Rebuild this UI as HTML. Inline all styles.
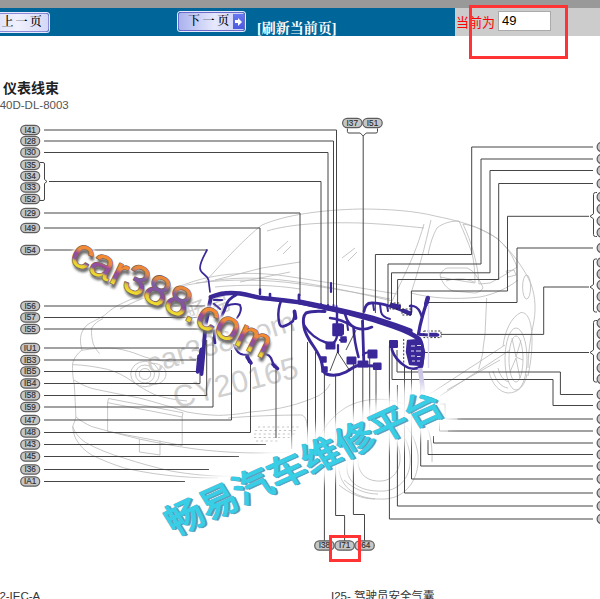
<!DOCTYPE html>
<html><head><meta charset="utf-8"><title>仪表线束</title>
<style>
html,body{margin:0;padding:0;background:#fff;overflow:hidden}
body{width:600px;height:599px;position:relative;font-family:"Liberation Sans","Noto Sans CJK SC",sans-serif}
#topgray{position:absolute;left:0;top:0;width:600px;height:8px;background:#999}
#bar{position:absolute;left:0;top:8px;width:455px;height:28px;background:#006699}
#barr{position:absolute;left:455px;top:8px;width:145px;height:28px;background:#ccc}
.btn{position:absolute;box-sizing:border-box;border:1px solid #6c6cc8;border-radius:2.5px;box-shadow:0 0 0 1px #e8e8ff;background:linear-gradient(90deg,#aab2ee,#e6e8fc 55%,#c8ccf4);color:#000;font:500 12px "Liberation Serif","Noto Serif CJK SC",serif;white-space:nowrap;letter-spacing:2.6px}
#prev{left:-4px;top:13px;width:52.5px;height:19px;line-height:16px;padding-left:4.5px;letter-spacing:2.1px;border-color:#8a8ad6;background:linear-gradient(90deg,#dfe2fa,#f0f1fd 40%,#d4d8f6)}
#next{left:178px;top:12px;width:67px;height:19px;line-height:16px;padding-left:9px}
#next i{position:absolute;right:0;top:1px;width:11px;height:15px;background:linear-gradient(#6878f0,#4a5ae0)}
#next i:before{content:"";position:absolute;left:2px;top:6px;width:4px;height:3px;background:#fff}
#next i:after{content:"";position:absolute;left:5px;top:3.5px;border-left:4.5px solid #fff;border-top:4px solid transparent;border-bottom:4px solid transparent}
#refresh{position:absolute;left:257px;top:16.5px;color:#fff;font:bold 14px "Liberation Serif","Noto Serif CJK SC",serif;white-space:nowrap}
#cur{position:absolute;left:456px;top:12px;color:#f00;font:13px "Liberation Sans","Noto Sans CJK SC",sans-serif;white-space:nowrap}
#inp{position:absolute;left:498px;top:11px;width:53px;height:20px;box-sizing:border-box;border:1px solid #aaa;background:#fff;font:13px "Liberation Sans",sans-serif;line-height:18px;padding-left:3px;color:#000}
#redbox{position:absolute;left:468.5px;top:4.5px;width:99px;height:54px;box-sizing:border-box;border:3px solid #f33}
svg{position:absolute;left:0;top:0}
</style></head><body>
<div id="topgray"></div><div id="bar"></div><div id="barr"></div>
<div class="btn" id="prev">上一页</div>
<div class="btn" id="next">下一页<i></i></div>
<div id="refresh">[刷新当前页]</div>
<div id="cur">当前为</div>
<div id="inp">49</div>
<div id="redbox"></div>
<svg width="600" height="599" viewBox="0 0 600 599">
<text x="3" y="93" font-size="14" font-weight="bold" fill="#222" font-family="Liberation Sans, Noto Sans CJK SC, sans-serif">仪表线束</text>
<text x="-8" y="109" font-size="11.5" fill="#555" font-family="Liberation Sans, sans-serif">B40D-DL-8003</text>
<path d="M205,282 C225,260 245,238 262,225 C285,215 320,210 360,209 C390,209 415,211 435,216 C455,220 480,226 498,239 C512,252 524,268 531,284 C536,298 536,312 533,326 C530,340 528,355 528,368" stroke="#b9b9b9" stroke-width="0.8" fill="none" />
<path d="M267,231 C290,224 325,222 360,223 C385,224 405,226 424,228" stroke="#b9b9b9" stroke-width="0.8" fill="none" />
<path d="M424,224 C421,234 418,244 413,256 C408,268 402,280 397,291 L392,301" stroke="#b9b9b9" stroke-width="0.8" fill="none" />
<path d="M431,220 C428,232 425,246 421,260 C417,274 414,284 411,293" stroke="#b9b9b9" stroke-width="0.8" fill="none" />
<path d="M205,282 C230,277 260,277 290,281 C320,285 355,292 392,301" stroke="#b9b9b9" stroke-width="0.8" fill="none" />
<path d="M186,284 C215,273 250,271 285,276 C320,281 360,288 397,294" stroke="#b9b9b9" stroke-width="0.8" fill="none" />
<path d="M428,255 C430,244 433,235 437,228 C443,223 451,221 459,221 C463,230 468,242 472,253 C474,262 475,272 475,283 C462,281 450,279 440,277" stroke="#b9b9b9" stroke-width="0.8" fill="none" />
<path d="M463,224 C470,225 476,227 480,229 C488,233 494,236 499,240 C505,246 509,251 512,256 C514,260 516,264 517,267 C510,272 500,278 490,283 L479,284 C478,265 472,243 463,224" stroke="#b9b9b9" stroke-width="0.8" fill="none" />
<path d="M440,275 C442,271 445,268 448,268 L467,268 C472,270 475,273 477,277 C480,281 482,285 483,288 C481,291 478,293 475,293 L453,291 C447,289 442,283 440,275" stroke="#b9b9b9" stroke-width="0.8" fill="none" />
<path d="M446,281 C455,278 466,278 474,282" stroke="#b9b9b9" stroke-width="0.8" fill="none" />
<path d="M411,293 C430,298 455,300 480,297 C495,294 508,288 518,280" stroke="#b9b9b9" stroke-width="0.8" fill="none" />
<path d="M205,282 C190,284 172,288 158,291.6" stroke="#b9b9b9" stroke-width="0.8" fill="none" />
<path d="M186,284 C165,290 140,298 120,309" stroke="#b9b9b9" stroke-width="0.8" fill="none" />
<path d="M158,291.6 C145,294 133,298 123.5,302.7 C116,306 110,310 104.4,315.4 C97,320 91,322 87,325 C83,329 81,333 80.6,337.6 C80,342 81,346 82,350 C77,354 74,358 72.7,363 C72,370 73,378 74.3,385 C75,396 75.5,407 75.9,417 C75,421 73.5,424 72.7,426.5 C73,431 74,435 75.9,439 C80,446 85,451 91.7,455 C102,460 112,464 123.5,467.8 C150,474 180,478 218,478" stroke="#b9b9b9" stroke-width="0.8" fill="none" />
<path d="M103,318.6 C98,321 94,324 91.7,328 C91,334 92,339 93.3,344 C95,348 97,351 99.7,353.5" stroke="#b9b9b9" stroke-width="0.8" fill="none" />
<path d="M82,350.3 C94,348 106,347.5 117,348.7 C125,350 132,352 139.4,355 C152,360 165,362 180,362" stroke="#b9b9b9" stroke-width="0.8" fill="none" />
<path d="M72.7,364.6 C85,365 97,367 107.6,369.4 C117,372 125,376 133,382 C140,387 147,391 155,394.8 C165,398 176,400 187,401" stroke="#b9b9b9" stroke-width="0.8" fill="none" />
<path d="M130.7,374 a14.3,12.7 0 1,0 28.6,0 a14.3,12.7 0 1,0 -28.6,0" stroke="#b9b9b9" stroke-width="0.8" fill="none" />
<path d="M135.5,374 a9.5,9 0 1,0 19,0 a9.5,9 0 1,0 -19,0" stroke="#b9b9b9" stroke-width="0.8" fill="none" />
<path d="M139.3,374 a5.7,5.5 0 1,0 11.4,0 a5.7,5.5 0 1,0 -11.4,0" stroke="#b9b9b9" stroke-width="0.8" fill="none" />
<path d="M149,363.5 C158,362 166,367 166,374 C166,381 158,386 149,384.5" stroke="#b9b9b9" stroke-width="0.8" fill="none" />
<path d="M74,380 C80,384 86,386.5 91.7,388.4 C108,392 124,395 139.4,398 C155,402 171,407 187,412 C198,414 208,415 218.7,415.4 C232,415 243,413.5 250,412" stroke="#b9b9b9" stroke-width="0.8" fill="none" />
<path d="M75.9,417 C81,421 86,424 91.7,426.5 C107,431 123,435 139.4,439 C157,443 175,446 193,448.7 C225,453 260,454 290,452" stroke="#b9b9b9" stroke-width="0.8" fill="none" />
<path d="M72.7,426.5 C75,433 79,438 85.4,442.4 C97,449 110,454 123.5,458 C139,463 155,467.5 171,471 C190,474.5 215,477 240,476 C265,475 290,470 310,462" stroke="#b9b9b9" stroke-width="0.8" fill="none" />
<path d="M107.6,402.7 L182.2,417 L182.2,445.5 L107.6,431.3 Z" stroke="#b9b9b9" stroke-width="0.8" fill="none" />
<path d="M107.6,402.7 L108.5,398.5 L183,412.8 L182.2,417" stroke="#b9b9b9" stroke-width="0.8" fill="none" />
<path d="M139.4,439 L139.4,452 L160,455 L160,440.8" stroke="#b9b9b9" stroke-width="0.8" fill="none" />
<path d="M228,418 C250,416 280,415 302,415 C306,417 307,422 307,427" stroke="#b9b9b9" stroke-width="0.8" fill="none" />
<path d="M250,412 C280,410 300,404 318,396 C325,392 328,388 330,384" stroke="#b9b9b9" stroke-width="0.8" fill="none" />
<path d="M310,462 C316,440 326,420 345,408 C365,396 395,396 415,410 C428,420 433,440 432,462" stroke="#b9b9b9" stroke-width="0.8" fill="none" />
<path d="M339,470 C338,445 350,420 372,414 C395,410 415,428 418,455 C420,480 405,498 385,499 C362,500 342,492 339,470" stroke="#b9b9b9" stroke-width="0.8" fill="none" />
<path d="M347,470 C346,448 356,428 374,423 C393,419 408,434 410,456 C412,476 400,490 384,491 C365,492 349,486 347,470" stroke="#b9b9b9" stroke-width="0.8" fill="none" />
<path d="M358,462 C358,446 365,434 377,432 C390,430 399,441 400,456 C401,470 393,480 382,481 C369,482 359,476 358,462" stroke="#b9b9b9" stroke-width="0.8" fill="none" />
<path d="M339,485 C350,494 362,499 375,499 M344,480 C354,489 365,494 378,494" stroke="#b9b9b9" stroke-width="0.8" fill="none" />
<path d="M433,392 L505,345 M440,396 L510,350 M447,390 L500,360 M418,398 L433,392" stroke="#b9b9b9" stroke-width="0.8" fill="none" />
<path d="M506,271 L514,270 L516,275 L508,277 Z" stroke="#b9b9b9" stroke-width="0.8" fill="none" />
<path d="M522.6,287 a4,12 0 1,0 8,0 a4,12 0 1,0 -8,0" stroke="#b9b9b9" stroke-width="0.8" fill="none" />
<path d="M503,346 C505,331 511,317 521,312.5 C529,312 532,325 532,340 C532,355 530,366 528,376" stroke="#b9b9b9" stroke-width="0.8" fill="none" />
<path d="M505,359 a11,31 0 1,0 22,0 a11,31 0 1,0 -22,0" stroke="#b9b9b9" stroke-width="0.8" fill="none" />
<path d="M509,359 a7,23 0 1,0 14,0 a7,23 0 1,0 -14,0" stroke="#b9b9b9" stroke-width="0.8" fill="none" />
<path d="M516,357 L512,338 M516,357 L521,340 M516,358 L510,372 M516,358 L520,378 M516,357 L523,360" stroke="#b9b9b9" stroke-width="0.8" fill="none" />
<path d="M489,372 C492,384 499,392 508,393 C518,393 525,386 527,374" stroke="#b9b9b9" stroke-width="0.8" fill="none" />
<path d="M493,371 C496,381 501,387 508,388 M498,368 C500,376 504,381 509,382" stroke="#b9b9b9" stroke-width="0.8" fill="none" />
<path d="M486.7,298 C486,312 485.5,324 485,334.7 C484,342 483,348 482.7,353 C481.5,359 480,364 478.7,369" stroke="#b9b9b9" stroke-width="0.8" fill="none" />
<path d="M215,280 L262,268 M262,268 L300,262 M240,282 L290,272" stroke="#b9b9b9" stroke-width="0.8" fill="none" />
<path d="M277,251 L288,241 M283,254 L291,246 M342,258 L355,248 M348,261 L357,252" stroke="#b9b9b9" stroke-width="0.8" fill="none" />
<path d="M196,283 C230,279 265,279 300,284 C330,288 360,293 390,299" stroke="#b9b9b9" stroke-width="0.8" fill="none" />
<path d="M215,287 C245,284 275,285 300,289" stroke="#b9b9b9" stroke-width="0.8" fill="none" />
<path d="M258,427 H300 M255,430.5 H298 M254,434 H296 M254,437.5 H290 M256,441 H280" stroke="#bdbdbd" stroke-width="0.9" stroke-dasharray="2.2,2.6" fill="none"/>
<g transform="translate(150,374) rotate(-16.7)"><text x="0" y="0" font-size="29.3" font-family="Liberation Sans, sans-serif" fill="#d0d0d0">car388.com</text></g>
<g transform="translate(176,408.5) rotate(-14.2)"><text x="0" y="0" font-size="30.7" font-family="Liberation Sans, sans-serif" fill="#d0d0d0">CY20165</text></g>
<g transform="translate(188,324) rotate(-20)"><text x="0" y="0" font-size="24" font-family="Liberation Sans, Noto Sans CJK SC, sans-serif" fill="#d0d0d0">畅易</text></g>
<rect x="20.7" y="125.3" width="19" height="9.4" rx="4.7" fill="#c6c6c6" stroke="#5c5c5c" stroke-width="1.2"/>
<text x="30.2" y="132.9" font-size="8.2" text-anchor="middle" fill="#2e2e2e" stroke="#2e2e2e" stroke-width="0.15" font-family="Liberation Sans, sans-serif">I41</text>
<rect x="20.7" y="136.3" width="19" height="9.4" rx="4.7" fill="#c6c6c6" stroke="#5c5c5c" stroke-width="1.2"/>
<text x="30.2" y="143.9" font-size="8.2" text-anchor="middle" fill="#2e2e2e" stroke="#2e2e2e" stroke-width="0.15" font-family="Liberation Sans, sans-serif">I28</text>
<rect x="20.7" y="147.8" width="19" height="9.4" rx="4.7" fill="#c6c6c6" stroke="#5c5c5c" stroke-width="1.2"/>
<text x="30.2" y="155.4" font-size="8.2" text-anchor="middle" fill="#2e2e2e" stroke="#2e2e2e" stroke-width="0.15" font-family="Liberation Sans, sans-serif">I30</text>
<rect x="20.7" y="160.1" width="19" height="9.4" rx="4.7" fill="#c6c6c6" stroke="#5c5c5c" stroke-width="1.2"/>
<text x="30.2" y="167.7" font-size="8.2" text-anchor="middle" fill="#2e2e2e" stroke="#2e2e2e" stroke-width="0.15" font-family="Liberation Sans, sans-serif">I35</text>
<rect x="20.7" y="171.3" width="19" height="9.4" rx="4.7" fill="#c6c6c6" stroke="#5c5c5c" stroke-width="1.2"/>
<text x="30.2" y="178.9" font-size="8.2" text-anchor="middle" fill="#2e2e2e" stroke="#2e2e2e" stroke-width="0.15" font-family="Liberation Sans, sans-serif">I34</text>
<rect x="20.7" y="182.8" width="19" height="9.4" rx="4.7" fill="#c6c6c6" stroke="#5c5c5c" stroke-width="1.2"/>
<text x="30.2" y="190.4" font-size="8.2" text-anchor="middle" fill="#2e2e2e" stroke="#2e2e2e" stroke-width="0.15" font-family="Liberation Sans, sans-serif">I33</text>
<rect x="20.7" y="194.3" width="19" height="9.4" rx="4.7" fill="#c6c6c6" stroke="#5c5c5c" stroke-width="1.2"/>
<text x="30.2" y="201.9" font-size="8.2" text-anchor="middle" fill="#2e2e2e" stroke="#2e2e2e" stroke-width="0.15" font-family="Liberation Sans, sans-serif">I52</text>
<rect x="20.7" y="208.3" width="19" height="9.4" rx="4.7" fill="#c6c6c6" stroke="#5c5c5c" stroke-width="1.2"/>
<text x="30.2" y="215.9" font-size="8.2" text-anchor="middle" fill="#2e2e2e" stroke="#2e2e2e" stroke-width="0.15" font-family="Liberation Sans, sans-serif">I29</text>
<rect x="20.7" y="223.3" width="19" height="9.4" rx="4.7" fill="#c6c6c6" stroke="#5c5c5c" stroke-width="1.2"/>
<text x="30.2" y="230.9" font-size="8.2" text-anchor="middle" fill="#2e2e2e" stroke="#2e2e2e" stroke-width="0.15" font-family="Liberation Sans, sans-serif">I49</text>
<rect x="20.7" y="245.3" width="19" height="9.4" rx="4.7" fill="#c6c6c6" stroke="#5c5c5c" stroke-width="1.2"/>
<text x="30.2" y="252.9" font-size="8.2" text-anchor="middle" fill="#2e2e2e" stroke="#2e2e2e" stroke-width="0.15" font-family="Liberation Sans, sans-serif">I54</text>
<rect x="20.7" y="301.3" width="19" height="9.4" rx="4.7" fill="#c6c6c6" stroke="#5c5c5c" stroke-width="1.2"/>
<text x="30.2" y="308.9" font-size="8.2" text-anchor="middle" fill="#2e2e2e" stroke="#2e2e2e" stroke-width="0.15" font-family="Liberation Sans, sans-serif">I56</text>
<rect x="20.7" y="312.8" width="19" height="9.4" rx="4.7" fill="#c6c6c6" stroke="#5c5c5c" stroke-width="1.2"/>
<text x="30.2" y="320.4" font-size="8.2" text-anchor="middle" fill="#2e2e2e" stroke="#2e2e2e" stroke-width="0.15" font-family="Liberation Sans, sans-serif">I57</text>
<rect x="20.7" y="324.3" width="19" height="9.4" rx="4.7" fill="#c6c6c6" stroke="#5c5c5c" stroke-width="1.2"/>
<text x="30.2" y="331.9" font-size="8.2" text-anchor="middle" fill="#2e2e2e" stroke="#2e2e2e" stroke-width="0.15" font-family="Liberation Sans, sans-serif">I55</text>
<rect x="20.7" y="343.3" width="19" height="9.4" rx="4.7" fill="#c6c6c6" stroke="#5c5c5c" stroke-width="1.2"/>
<text x="30.2" y="350.9" font-size="8.2" text-anchor="middle" fill="#2e2e2e" stroke="#2e2e2e" stroke-width="0.15" font-family="Liberation Sans, sans-serif">IU1</text>
<rect x="20.7" y="355.3" width="19" height="9.4" rx="4.7" fill="#c6c6c6" stroke="#5c5c5c" stroke-width="1.2"/>
<text x="30.2" y="362.9" font-size="8.2" text-anchor="middle" fill="#2e2e2e" stroke="#2e2e2e" stroke-width="0.15" font-family="Liberation Sans, sans-serif">IB3</text>
<rect x="20.7" y="366.8" width="19" height="9.4" rx="4.7" fill="#c6c6c6" stroke="#5c5c5c" stroke-width="1.2"/>
<text x="30.2" y="374.4" font-size="8.2" text-anchor="middle" fill="#2e2e2e" stroke="#2e2e2e" stroke-width="0.15" font-family="Liberation Sans, sans-serif">IB5</text>
<rect x="20.7" y="378.8" width="19" height="9.4" rx="4.7" fill="#c6c6c6" stroke="#5c5c5c" stroke-width="1.2"/>
<text x="30.2" y="386.4" font-size="8.2" text-anchor="middle" fill="#2e2e2e" stroke="#2e2e2e" stroke-width="0.15" font-family="Liberation Sans, sans-serif">IB4</text>
<rect x="20.7" y="390.8" width="19" height="9.4" rx="4.7" fill="#c6c6c6" stroke="#5c5c5c" stroke-width="1.2"/>
<text x="30.2" y="398.4" font-size="8.2" text-anchor="middle" fill="#2e2e2e" stroke="#2e2e2e" stroke-width="0.15" font-family="Liberation Sans, sans-serif">I58</text>
<rect x="20.7" y="402.3" width="19" height="9.4" rx="4.7" fill="#c6c6c6" stroke="#5c5c5c" stroke-width="1.2"/>
<text x="30.2" y="409.9" font-size="8.2" text-anchor="middle" fill="#2e2e2e" stroke="#2e2e2e" stroke-width="0.15" font-family="Liberation Sans, sans-serif">I59</text>
<rect x="20.7" y="415.3" width="19" height="9.4" rx="4.7" fill="#c6c6c6" stroke="#5c5c5c" stroke-width="1.2"/>
<text x="30.2" y="422.9" font-size="8.2" text-anchor="middle" fill="#2e2e2e" stroke="#2e2e2e" stroke-width="0.15" font-family="Liberation Sans, sans-serif">I47</text>
<rect x="20.7" y="427.8" width="19" height="9.4" rx="4.7" fill="#c6c6c6" stroke="#5c5c5c" stroke-width="1.2"/>
<text x="30.2" y="435.4" font-size="8.2" text-anchor="middle" fill="#2e2e2e" stroke="#2e2e2e" stroke-width="0.15" font-family="Liberation Sans, sans-serif">I48</text>
<rect x="20.7" y="439.8" width="19" height="9.4" rx="4.7" fill="#c6c6c6" stroke="#5c5c5c" stroke-width="1.2"/>
<text x="30.2" y="447.4" font-size="8.2" text-anchor="middle" fill="#2e2e2e" stroke="#2e2e2e" stroke-width="0.15" font-family="Liberation Sans, sans-serif">I43</text>
<rect x="20.7" y="451.8" width="19" height="9.4" rx="4.7" fill="#c6c6c6" stroke="#5c5c5c" stroke-width="1.2"/>
<text x="30.2" y="459.4" font-size="8.2" text-anchor="middle" fill="#2e2e2e" stroke="#2e2e2e" stroke-width="0.15" font-family="Liberation Sans, sans-serif">I45</text>
<rect x="20.7" y="464.8" width="19" height="9.4" rx="4.7" fill="#c6c6c6" stroke="#5c5c5c" stroke-width="1.2"/>
<text x="30.2" y="472.4" font-size="8.2" text-anchor="middle" fill="#2e2e2e" stroke="#2e2e2e" stroke-width="0.15" font-family="Liberation Sans, sans-serif">I36</text>
<rect x="20.7" y="476.8" width="19" height="9.4" rx="4.7" fill="#c6c6c6" stroke="#5c5c5c" stroke-width="1.2"/>
<text x="30.2" y="484.4" font-size="8.2" text-anchor="middle" fill="#2e2e2e" stroke="#2e2e2e" stroke-width="0.15" font-family="Liberation Sans, sans-serif">IA1</text>
<polyline points="44,130 336.5,130 336.5,306" stroke="#454545" stroke-width="1.0" fill="none" />
<polyline points="44,141 333.5,141 333.5,306" stroke="#454545" stroke-width="1.0" fill="none" />
<polyline points="44,152.5 328,152.5 328,306" stroke="#454545" stroke-width="1.0" fill="none" />
<polyline points="49,181.5 321,181.5 321,305" stroke="#454545" stroke-width="1.0" fill="none" />
<polyline points="44,213 300,213 300,296" stroke="#454545" stroke-width="1.0" fill="none" />
<polyline points="44,228 260,228 260,291" stroke="#454545" stroke-width="1.0" fill="none" />
<polyline points="44,250 207,250" stroke="#454545" stroke-width="1.0" fill="none" />
<polyline points="44,306 205,306" stroke="#454545" stroke-width="1.0" fill="none" />
<polyline points="44,317.5 204,317.5" stroke="#454545" stroke-width="1.0" fill="none" />
<polyline points="44,329 203,329" stroke="#454545" stroke-width="1.0" fill="none" />
<polyline points="44,348 199,348" stroke="#454545" stroke-width="1.0" fill="none" />
<polyline points="44,360 196,360" stroke="#454545" stroke-width="1.0" fill="none" />
<polyline points="44,371.5 196,371.5" stroke="#454545" stroke-width="1.0" fill="none" />
<polyline points="44,383.5 200,383.5 200,372" stroke="#454545" stroke-width="1.0" fill="none" />
<polyline points="44,395.5 206.7,395.5 206.7,340" stroke="#454545" stroke-width="1.0" fill="none" />
<polyline points="44,407 213,407 213,337" stroke="#454545" stroke-width="1.0" fill="none" />
<polyline points="44,420 231.5,420 231.5,350" stroke="#454545" stroke-width="1.0" fill="none" />
<polyline points="44,432.5 250.5,432.5 250.5,364" stroke="#454545" stroke-width="1.0" fill="none" />
<polyline points="44,444.5 266,444.5" stroke="#454545" stroke-width="1.0" fill="none" />
<polyline points="276,438 276,368" stroke="#454545" stroke-width="1.0" fill="none" />
<polyline points="44,456.5 239,456.5" stroke="#454545" stroke-width="1.0" fill="none" />
<polyline points="291.7,449 291.7,324" stroke="#454545" stroke-width="1.0" fill="none" />
<polyline points="44,469.5 209,469.5" stroke="#454545" stroke-width="1.0" fill="none" />
<polyline points="307.5,446 307.5,342" stroke="#454545" stroke-width="1.0" fill="none" />
<polyline points="44,481.5 185,481.5" stroke="#454545" stroke-width="1.0" fill="none" />
<polyline points="315.5,442 315.5,352" stroke="#454545" stroke-width="1.0" fill="none" />
<polyline points="324.4,541 324.4,372" stroke="#454545" stroke-width="1.0" fill="none" />
<polyline points="344.6,541 344.6,515.5 335.6,515.5 335.6,374" stroke="#454545" stroke-width="1.0" fill="none" />
<polyline points="364.5,541 364.5,514.5 353.4,514.5 353.4,362" stroke="#454545" stroke-width="1.0" fill="none" />
<polyline points="593,147 471.7,147 471.7,254.5 375.4,254.5 375.4,313" stroke="#454545" stroke-width="1.0" fill="none" />
<polyline points="593,159 481,159 481,264 388,264 388,304" stroke="#454545" stroke-width="1.0" fill="none" />
<polyline points="593,170.5 490,170.5 490,272.8 391.5,272.8 391.5,304" stroke="#454545" stroke-width="1.0" fill="none" />
<polyline points="593,183.5 498.7,183.5 498.7,279.5 397.6,279.5 397.6,305" stroke="#454545" stroke-width="1.0" fill="none" />
<polyline points="589,216.3 507.5,216.3 507.5,291 411.4,291 411.4,306" stroke="#454545" stroke-width="1.0" fill="none" />
<polyline points="593,248 517,248 517,302.5 428,302.5" stroke="#454545" stroke-width="1.0" fill="none" />
<polyline points="589,287 543.7,287 543.7,334.4 441,334.4" stroke="#454545" stroke-width="1.0" fill="none" />
<polyline points="589,352.5 424,352.5" stroke="#454545" stroke-width="1.0" fill="none" />
<polyline points="593,394.5 560.4,394.5 560.4,372 397,372 397,350" stroke="#454545" stroke-width="1.0" fill="none" />
<polyline points="593,405.5 553,405.5 553,379.5 392,379.5 392,346" stroke="#454545" stroke-width="1.0" fill="none" />
<polyline points="593,419 457.5,419" stroke="#454545" stroke-width="1.0" fill="none" />
<polyline points="593,431 448,431" stroke="#454545" stroke-width="1.0" fill="none" />
<polyline points="458,419 445,419 445,404 437,404" stroke="#9a9a9a" stroke-width="1" fill="none"/>
<polyline points="448,431 439.5,431 439.5,420" stroke="#9a9a9a" stroke-width="1" fill="none"/>
<polyline points="593,443 433.5,443 433.5,436" stroke="#454545" stroke-width="1.0" fill="none" />
<polyline points="593,454.5 428,454.5 428,440" stroke="#454545" stroke-width="1.0" fill="none" />
<polyline points="593,466 420.7,466 420.7,372" stroke="#454545" stroke-width="1.0" fill="none" />
<polyline points="593,479 411.5,479 411.5,370" stroke="#454545" stroke-width="1.0" fill="none" />
<polyline points="593,493 404.5,493 404.5,366" stroke="#454545" stroke-width="1.0" fill="none" />
<polyline points="593,506 397.4,506 397.4,385" stroke="#454545" stroke-width="1.0" fill="none" />
<polyline points="593,519 389.4,519 389.4,346" stroke="#454545" stroke-width="1.0" fill="none" />
<polyline points="363.2,136 363.2,323" stroke="#454545" stroke-width="1.0" fill="none" />
<polyline points="362.8,366 362.8,442" stroke="#454545" stroke-width="1.0" fill="none" />
<polyline points="369.7,357 369.7,436" stroke="#454545" stroke-width="1.0" fill="none" />
<polyline points="376,369 376,432" stroke="#454545" stroke-width="1.0" fill="none" />
<path d="M597,192.5 h-1.5 q-2,0 -2,2 V213.8 l-3.5,2.5 l3.5,2.5 V234.5 q0,2 2,2 h1.5" stroke="#454545" stroke-width="1.0" fill="none"/>
<path d="M597,259 h-1.5 q-2,0 -2,2 V284.5 l-3.5,2.5 l3.5,2.5 V310 q0,2 2,2 h1.5" stroke="#454545" stroke-width="1.0" fill="none"/>
<path d="M597,320.5 h-1.5 q-2,0 -2,2 V350.0 l-3.5,2.5 l3.5,2.5 V380 q0,2 2,2 h1.5" stroke="#454545" stroke-width="1.0" fill="none"/>
<path d="M40,162.5 h3 q1.5,0 1.5,1.5 v15.5 l2.5,2 l-2.5,2 v15.5 q0,1.5 -1.5,1.5 h-3" stroke="#454545" stroke-width="1.0" fill="none"/>
<rect x="342.6" y="118.3" width="19.4" height="9.4" rx="4.7" fill="#c6c6c6" stroke="#5c5c5c" stroke-width="1.2"/>
<text x="352.3" y="125.9" font-size="8.2" text-anchor="middle" fill="#2e2e2e" stroke="#2e2e2e" stroke-width="0.15" font-family="Liberation Sans, sans-serif">I37</text>
<rect x="362.8" y="118.3" width="19.4" height="9.4" rx="4.7" fill="#c6c6c6" stroke="#5c5c5c" stroke-width="1.2"/>
<text x="372.5" y="125.9" font-size="8.2" text-anchor="middle" fill="#2e2e2e" stroke="#2e2e2e" stroke-width="0.15" font-family="Liberation Sans, sans-serif">I51</text>
<path d="M347.4,128.5 v3 q0,1.5 1.5,1.5 H360.2 l3,3 l3,-3 H376 q1.5,0 1.5,-1.5 v-3" stroke="#454545" stroke-width="1.0" fill="none"/>
<rect x="314.7" y="540.8" width="19.4" height="9.4" rx="4.7" fill="#c6c6c6" stroke="#5c5c5c" stroke-width="1.2"/>
<text x="324.4" y="548.4" font-size="8.2" text-anchor="middle" fill="#2e2e2e" stroke="#2e2e2e" stroke-width="0.15" font-family="Liberation Sans, sans-serif">I38</text>
<rect x="334.9" y="540.8" width="19.4" height="9.4" rx="4.7" fill="#c6c6c6" stroke="#5c5c5c" stroke-width="1.2"/>
<text x="344.6" y="548.4" font-size="8.2" text-anchor="middle" fill="#2e2e2e" stroke="#2e2e2e" stroke-width="0.15" font-family="Liberation Sans, sans-serif">I71</text>
<rect x="354.9" y="540.8" width="19.4" height="9.4" rx="4.7" fill="#c6c6c6" stroke="#5c5c5c" stroke-width="1.2"/>
<text x="364.6" y="548.4" font-size="8.2" text-anchor="middle" fill="#2e2e2e" stroke="#2e2e2e" stroke-width="0.15" font-family="Liberation Sans, sans-serif">I64</text>
<rect x="597.1" y="142.3" width="19.4" height="9.4" rx="4.7" fill="#c6c6c6" stroke="#5c5c5c" stroke-width="1.2"/>
<rect x="597.1" y="154.3" width="19.4" height="9.4" rx="4.7" fill="#c6c6c6" stroke="#5c5c5c" stroke-width="1.2"/>
<rect x="597.1" y="165.8" width="19.4" height="9.4" rx="4.7" fill="#c6c6c6" stroke="#5c5c5c" stroke-width="1.2"/>
<rect x="597.1" y="178.8" width="19.4" height="9.4" rx="4.7" fill="#c6c6c6" stroke="#5c5c5c" stroke-width="1.2"/>
<rect x="597.1" y="192.3" width="19.4" height="9.4" rx="4.7" fill="#c6c6c6" stroke="#5c5c5c" stroke-width="1.2"/>
<rect x="597.1" y="204.3" width="19.4" height="9.4" rx="4.7" fill="#c6c6c6" stroke="#5c5c5c" stroke-width="1.2"/>
<rect x="597.1" y="216.3" width="19.4" height="9.4" rx="4.7" fill="#c6c6c6" stroke="#5c5c5c" stroke-width="1.2"/>
<rect x="597.1" y="227.8" width="19.4" height="9.4" rx="4.7" fill="#c6c6c6" stroke="#5c5c5c" stroke-width="1.2"/>
<rect x="597.1" y="243.3" width="19.4" height="9.4" rx="4.7" fill="#c6c6c6" stroke="#5c5c5c" stroke-width="1.2"/>
<rect x="597.1" y="257.8" width="19.4" height="9.4" rx="4.7" fill="#c6c6c6" stroke="#5c5c5c" stroke-width="1.2"/>
<rect x="597.1" y="269.3" width="19.4" height="9.4" rx="4.7" fill="#c6c6c6" stroke="#5c5c5c" stroke-width="1.2"/>
<rect x="597.1" y="280.3" width="19.4" height="9.4" rx="4.7" fill="#c6c6c6" stroke="#5c5c5c" stroke-width="1.2"/>
<rect x="597.1" y="291.8" width="19.4" height="9.4" rx="4.7" fill="#c6c6c6" stroke="#5c5c5c" stroke-width="1.2"/>
<rect x="597.1" y="302.8" width="19.4" height="9.4" rx="4.7" fill="#c6c6c6" stroke="#5c5c5c" stroke-width="1.2"/>
<rect x="597.1" y="318.3" width="19.4" height="9.4" rx="4.7" fill="#c6c6c6" stroke="#5c5c5c" stroke-width="1.2"/>
<rect x="597.1" y="329.3" width="19.4" height="9.4" rx="4.7" fill="#c6c6c6" stroke="#5c5c5c" stroke-width="1.2"/>
<rect x="597.1" y="340.3" width="19.4" height="9.4" rx="4.7" fill="#c6c6c6" stroke="#5c5c5c" stroke-width="1.2"/>
<rect x="597.1" y="351.8" width="19.4" height="9.4" rx="4.7" fill="#c6c6c6" stroke="#5c5c5c" stroke-width="1.2"/>
<rect x="597.1" y="363.3" width="19.4" height="9.4" rx="4.7" fill="#c6c6c6" stroke="#5c5c5c" stroke-width="1.2"/>
<rect x="597.1" y="374.3" width="19.4" height="9.4" rx="4.7" fill="#c6c6c6" stroke="#5c5c5c" stroke-width="1.2"/>
<rect x="597.1" y="389.8" width="19.4" height="9.4" rx="4.7" fill="#c6c6c6" stroke="#5c5c5c" stroke-width="1.2"/>
<rect x="597.1" y="400.8" width="19.4" height="9.4" rx="4.7" fill="#c6c6c6" stroke="#5c5c5c" stroke-width="1.2"/>
<rect x="597.1" y="414.3" width="19.4" height="9.4" rx="4.7" fill="#c6c6c6" stroke="#5c5c5c" stroke-width="1.2"/>
<rect x="597.1" y="426.3" width="19.4" height="9.4" rx="4.7" fill="#c6c6c6" stroke="#5c5c5c" stroke-width="1.2"/>
<rect x="597.1" y="438.3" width="19.4" height="9.4" rx="4.7" fill="#c6c6c6" stroke="#5c5c5c" stroke-width="1.2"/>
<rect x="597.1" y="449.8" width="19.4" height="9.4" rx="4.7" fill="#c6c6c6" stroke="#5c5c5c" stroke-width="1.2"/>
<rect x="597.1" y="461.3" width="19.4" height="9.4" rx="4.7" fill="#c6c6c6" stroke="#5c5c5c" stroke-width="1.2"/>
<rect x="597.1" y="474.3" width="19.4" height="9.4" rx="4.7" fill="#c6c6c6" stroke="#5c5c5c" stroke-width="1.2"/>
<rect x="597.1" y="488.3" width="19.4" height="9.4" rx="4.7" fill="#c6c6c6" stroke="#5c5c5c" stroke-width="1.2"/>
<rect x="597.1" y="501.3" width="19.4" height="9.4" rx="4.7" fill="#c6c6c6" stroke="#5c5c5c" stroke-width="1.2"/>
<rect x="597.1" y="514.3" width="19.4" height="9.4" rx="4.7" fill="#c6c6c6" stroke="#5c5c5c" stroke-width="1.2"/>
<path d="M207,250 C204,256 200,262 200,268 C200,274 207,274 208.5,280 L210,292" stroke="#3a2898" stroke-width="1.7" fill="none" stroke-linecap="round" stroke-linejoin="round"/>
<path d="M211,297 C220,293 232,292.5 240,293.5 C250,295 256,297.5 262,298 C275,299.5 290,300.5 303,303 C318,306 335,310 350,313.5 C362,316.5 375,320 392,326 C402,329.5 412,333 419,339 C423,345 423,355 421,366" stroke="#3a2898" stroke-width="4.6" fill="none" stroke-linecap="round" stroke-linejoin="round"/>
<path d="M300,302 C320,306 345,311 372,318 C385,322 398,326 410,331" stroke="#3a2898" stroke-width="5.2" fill="none" stroke-linecap="round" stroke-linejoin="round"/>
<path d="M211,297 C209.5,303 209,306 208.5,311 C207,318 205.5,324 205,330 C204.5,338 204,346 203.5,352 C203,360 202,368 201.5,374" stroke="#3a2898" stroke-width="3.8" fill="none" stroke-linecap="round" stroke-linejoin="round"/>
<path d="M202,350 L200.5,370" stroke="#3a2898" stroke-width="5.5" fill="none" stroke-linecap="round" stroke-linejoin="round"/>
<path d="M199,356 L197.5,372" stroke="#3a2898" stroke-width="3.5" fill="none" stroke-linecap="round" stroke-linejoin="round"/>
<path d="M236,295 C230,298 227,301 226,306 C224,312 221,318 217,325 C214,331 214,338 215,343" stroke="#3a2898" stroke-width="2.8" fill="none" stroke-linecap="round" stroke-linejoin="round"/>
<path d="M214,300 L222,300 M214,304 L220,309" stroke="#3a2898" stroke-width="2.2" fill="none" stroke-linecap="round" stroke-linejoin="round"/>
<path d="M226,306 C231,304 236,303 240,305 C242,309 240,314 237,318" stroke="#3a2898" stroke-width="2" fill="none" stroke-linecap="round" stroke-linejoin="round"/>
<path d="M281,301 C279,306 278,312 278.5,318 C279,324 280,327 283,326.5 C288,325 291,323 293,321 L295,314" stroke="#3a2898" stroke-width="2.5" fill="none" stroke-linecap="round" stroke-linejoin="round"/>
<path d="M294.5,311.5 L295.5,318" stroke="#3a2898" stroke-width="3.8" fill="none" stroke-linecap="round" stroke-linejoin="round"/>
<path d="M234,345 C236,351 239,354 243,354.5 L248,355 L249,362" stroke="#3a2898" stroke-width="2.2" fill="none" stroke-linecap="round" stroke-linejoin="round"/>
<path d="M247,357 L251,363" stroke="#3a2898" stroke-width="3.6" fill="none" stroke-linecap="round" stroke-linejoin="round"/>
<path d="M259,355 C264,353 269,354 271,358 L274.5,367" stroke="#3a2898" stroke-width="2.2" fill="none" stroke-linecap="round" stroke-linejoin="round"/>
<path d="M273,364.5 L277.5,368.5" stroke="#3a2898" stroke-width="3.6" fill="none" stroke-linecap="round" stroke-linejoin="round"/>
<path d="M325,311.5 C318,311 310,311.5 306,313 C303,316 303,322 304,327 C305,334 309,340 314,347 C318,353 321,358 322,364 C322.5,369 323,372 326,374 C332,376 340,375 346,372 C351,369 354,366.5 358,365.5 L376,366" stroke="#3a2898" stroke-width="3" fill="none" stroke-linecap="round" stroke-linejoin="round"/>
<path d="M304,325 C310,335 318,340 327,343 L333,345" stroke="#3a2898" stroke-width="2.4" fill="none" stroke-linecap="round" stroke-linejoin="round"/>
<path d="M374,363.5 h6.5 v5.5 h-6.5 Z" stroke="#3a2898" stroke-width="2.2" fill="#3a2898" stroke-linecap="round" stroke-linejoin="round"/>
<path d="M321,357 h5 v5 h-5 Z M322,367 h5 v5 h-5 Z" stroke="#3a2898" stroke-width="1.5" fill="#3a2898" stroke-linecap="round" stroke-linejoin="round"/>
<path d="M333.5,324.5 h8 v10.5 h-8 Z" stroke="#3a2898" stroke-width="2.5" fill="#3a2898" stroke-linecap="round" stroke-linejoin="round"/>
<path d="M337,312 L337,325 M337,335 C337,340 334,343 331,345" stroke="#3a2898" stroke-width="2.4" fill="none" stroke-linecap="round" stroke-linejoin="round"/>
<path d="M326.5,342.5 h8 v6 h-8 Z" stroke="#3a2898" stroke-width="2" fill="#3a2898" stroke-linecap="round" stroke-linejoin="round"/>
<path d="M345,314 C347,322 350,326 356,328 C362,330 368,329 372,327" stroke="#3a2898" stroke-width="2.6" fill="none" stroke-linecap="round" stroke-linejoin="round"/>
<path d="M330,318 C338,319 346,322 352,326" stroke="#3a2898" stroke-width="2.4" fill="none" stroke-linecap="round" stroke-linejoin="round"/>
<path d="M353.5,327 C354,338 356,348 358.5,357" stroke="#3a2898" stroke-width="2.6" fill="none" stroke-linecap="round" stroke-linejoin="round"/>
<path d="M362.5,321 C363,335 363.5,348 363.8,361" stroke="#3a2898" stroke-width="2.8" fill="none" stroke-linecap="round" stroke-linejoin="round"/>
<path d="M347.5,357.5 h8 v6 h-8 Z" stroke="#3a2898" stroke-width="2" fill="#3a2898" stroke-linecap="round" stroke-linejoin="round"/>
<path d="M358.5,361.5 h9 v5 h-9 Z" stroke="#3a2898" stroke-width="2" fill="#3a2898" stroke-linecap="round" stroke-linejoin="round"/>
<path d="M368.5,350.5 h8 v7 h-8 Z" stroke="#3a2898" stroke-width="2" fill="#3a2898" stroke-linecap="round" stroke-linejoin="round"/>
<path d="M363,355 C366,352 368,352 370,353" stroke="#3a2898" stroke-width="2.2" fill="none" stroke-linecap="round" stroke-linejoin="round"/>
<path d="M340,340 L346,340 M338,345 L338,352" stroke="#3a2898" stroke-width="2.2" fill="none" stroke-linecap="round" stroke-linejoin="round"/>
<path d="M341,337 h5 v5 h-5 Z" stroke="#3a2898" stroke-width="1.5" fill="#3a2898" stroke-linecap="round" stroke-linejoin="round"/>
<path d="M343,325 L343,334 M347,322 L348,330" stroke="#3a2898" stroke-width="2" fill="none" stroke-linecap="round" stroke-linejoin="round"/>
<path d="M364,311.5 C365,306 367,303 371,303 C378,302.5 384,304.5 389,306 C396,308 403,311 410,314" stroke="#3a2898" stroke-width="2.8" fill="none" stroke-linecap="round" stroke-linejoin="round"/>
<path d="M373,303 L374,310 M387,305 L388,311" stroke="#3a2898" stroke-width="2" fill="none" stroke-linecap="round" stroke-linejoin="round"/>
<path d="M392,305 L399,306.5 M404,311 L410,313.5" stroke="#3a2898" stroke-width="4.2" fill="none" stroke-linecap="round" stroke-linejoin="round"/>
<path d="M380,304 L381,312 C382,316 386,318 390,319" stroke="#3a2898" stroke-width="2" fill="none" stroke-linecap="round" stroke-linejoin="round"/>
<path d="M410,306 C414,305.5 418,308 420,312 L422,317" stroke="#3a2898" stroke-width="2.4" fill="none" stroke-linecap="round" stroke-linejoin="round"/>
<path d="M418.5,334 C419.5,328 420.5,323 422,318 C423.5,312 425.5,306 427,301.5" stroke="#3a2898" stroke-width="3.2" fill="none" stroke-linecap="round" stroke-linejoin="round"/>
<path d="M426.2,304 L427.8,298" stroke="#3a2898" stroke-width="4.6" fill="none" stroke-linecap="round" stroke-linejoin="round"/>
<path d="M420,334.5 L430,335 L438,335" stroke="#3a2898" stroke-width="2.8" fill="none" stroke-linecap="round" stroke-linejoin="round"/>
<path d="M429,333.4 h8 v2.4 h-8 Z" stroke="#3a2898" stroke-width="1.2" fill="#3a2898" stroke-linecap="round" stroke-linejoin="round"/>
<path d="M408,341 L420,340 L424,352 L422,365 L410,364 L407,352 Z" stroke="#3a2898" stroke-width="2.5" fill="#3a2898" stroke-linecap="round" stroke-linejoin="round"/>
<path d="M420,367 C415,369.5 410,369.5 405,366 C399,362 394,356 392,350 L391.5,345" stroke="#3a2898" stroke-width="2.6" fill="none" stroke-linecap="round" stroke-linejoin="round"/>
<path d="M390,341 h7 v6 h-7 Z" stroke="#3a2898" stroke-width="2" fill="#3a2898" stroke-linecap="round" stroke-linejoin="round"/>
<path d="M260,289.5 L260,294" stroke="#3a2898" stroke-width="2.4" fill="none" stroke-linecap="round" stroke-linejoin="round"/>
<path d="M270,294 L270,298" stroke="#3a2898" stroke-width="2.6" fill="none" stroke-linecap="round" stroke-linejoin="round"/>
<path d="M299,295 L299,300" stroke="#3a2898" stroke-width="2.8" fill="none" stroke-linecap="round" stroke-linejoin="round"/>
<path d="M321,304 L321,308 M328,305 L328,309 M333.5,305 L333.5,310 M336.5,306 L336.5,311" stroke="#3a2898" stroke-width="2" fill="none" stroke-linecap="round" stroke-linejoin="round"/>
<path d="M331,283 L331,292" stroke="#3a2898" stroke-width="2.2" fill="none" stroke-linecap="round" stroke-linejoin="round"/>
<path d="M411.4,305 L411.4,312" stroke="#3a2898" stroke-width="1.8" fill="none" stroke-linecap="round" stroke-linejoin="round"/>
<path d="M411,346 h4 M417,345.5 h4 M411,351 h3 M416,351 h5 M411,356 h4 M417,356.5 h3.5 M412,361 h3 M417,361 h3" stroke="#fff" stroke-width="1.2" fill="none" opacity="0.85"/>
<rect x="423.8" y="331" width="17.2" height="6.6" stroke="#222" stroke-width="0.9" fill="none" stroke-dasharray="2,1.6"/>
<path d="M403.7,339 V363" stroke="#222" stroke-width="0.9" fill="none" stroke-dasharray="2,1.6"/>
<rect x="390" y="303" width="10" height="6" stroke="#222" stroke-width="0.9" fill="none" stroke-dasharray="2,1.6"/>
<rect x="402" y="309" width="9" height="6" stroke="#222" stroke-width="0.9" fill="none" stroke-dasharray="2,1.6"/>
<path d="M420,368 L424,399" stroke="#cdc6e6" stroke-width="4.6" fill="none" stroke-linecap="butt"/>
<path d="M428.5,304 V368" stroke="#dcd7ee" stroke-width="1.4" fill="none"/>
<path d="M337.5,352 L330,371 M337.5,352 L350,371 M356,330 L346,350" stroke="#222" stroke-width="0.8" fill="none"/>
<defs>
<linearGradient id="cg1" gradientUnits="userSpaceOnUse" x1="0" y1="-23" x2="0" y2="1">
<stop offset="0" stop-color="#f68b28"/><stop offset="0.28" stop-color="#ee8a40"/><stop offset="0.46" stop-color="#9a4a9c"/><stop offset="0.7" stop-color="#8458a4"/><stop offset="0.8" stop-color="#e4c838"/><stop offset="1" stop-color="#f6e42c"/>
</linearGradient>
<linearGradient id="cg2" gradientUnits="userSpaceOnUse" x1="0" y1="-31" x2="0" y2="1">
<stop offset="0" stop-color="#f68b28"/><stop offset="0.22" stop-color="#e08648"/><stop offset="0.38" stop-color="#7a62a4"/><stop offset="0.68" stop-color="#8a4aa4"/><stop offset="0.8" stop-color="#e4c838"/><stop offset="1" stop-color="#f6e42c"/>
</linearGradient>
<filter id="sh" x="-10%" y="-30%" width="120%" height="170%"><feGaussianBlur stdDeviation="1.1"/></filter>
<filter id="glow3" x="-10%" y="-60%" width="120%" height="220%"><feGaussianBlur stdDeviation="5"/></filter>
<filter id="glow2" x="-10%" y="-40%" width="120%" height="180%"><feGaussianBlur stdDeviation="2.4"/></filter>
<filter id="glow" x="-10%" y="-30%" width="120%" height="160%"><feGaussianBlur stdDeviation="1.6"/></filter>
</defs>
<g transform="translate(68,262) rotate(26.3)">
<text x="0" y="0" font-family="Liberation Sans, sans-serif" font-size="41.5" letter-spacing="0.2" fill="#fff" stroke="#fff" stroke-width="5" stroke-linejoin="round" filter="url(#glow)">car388.com</text>
<text x="2.4" y="2.8" font-family="Liberation Sans, sans-serif" font-size="41.5" letter-spacing="0.2" fill="#444" stroke="#444" stroke-width="1" opacity="0.8" filter="url(#sh)">car388.com</text>
<text x="0" y="0" font-family="Liberation Sans, sans-serif" font-size="41.5" letter-spacing="0.2" stroke="#7a6058" stroke-width="1.5" stroke-linejoin="round" fill="#7a6058">car388.com</text>
<text x="0" y="0" font-family="Liberation Sans, sans-serif" font-size="41.5" letter-spacing="0.2" stroke-width="0.2" stroke-linejoin="round"><tspan fill="url(#cg1)" stroke="url(#cg1)">car</tspan><tspan fill="url(#cg2)" stroke="url(#cg2)">388</tspan><tspan fill="url(#cg1)" stroke="url(#cg1)">.com</tspan></text>
</g>
<g transform="translate(174.5,536) rotate(-24.4) skewX(7) scale(1.033,1)">
<text x="0" y="0" font-family="Liberation Sans, Noto Sans CJK SC, sans-serif" font-weight="400" font-size="36" letter-spacing="0.2" fill="#fff" stroke="#fff" stroke-width="24" stroke-linejoin="round" filter="url(#glow3)" opacity="0.75">畅易汽车维修平台</text>
<text x="0" y="0" font-family="Liberation Sans, Noto Sans CJK SC, sans-serif" font-weight="400" font-size="36" letter-spacing="0.2" fill="#fff" stroke="#fff" stroke-width="11" stroke-linejoin="round" filter="url(#glow2)" opacity="0.7">畅易汽车维修平台</text>
<text x="0" y="0" font-family="Liberation Sans, Noto Sans CJK SC, sans-serif" font-weight="400" font-size="36" letter-spacing="0.2" fill="#fff" stroke="#fff" stroke-width="3" stroke-linejoin="round" opacity="0.8">畅易汽车维修平台</text>
<text x="1.5" y="1.4" font-family="Liberation Sans, Noto Sans CJK SC, sans-serif" font-weight="400" font-size="36" letter-spacing="0.2" fill="#6a93b4" stroke="#6a93b4" stroke-width="0.8" stroke-linejoin="round">畅易汽车维修平台</text>
<text x="0" y="0" font-family="Liberation Sans, Noto Sans CJK SC, sans-serif" font-weight="400" font-size="36" letter-spacing="0.2" fill="#38cfe6" stroke="#48b4d0" stroke-width="1.9" stroke-linejoin="round" style="paint-order:stroke">畅易汽车维修平台</text>
<text x="0" y="0" font-family="Liberation Sans, Noto Sans CJK SC, sans-serif" font-weight="400" font-size="36" letter-spacing="0.2" fill="#38cfe6" stroke="#38cfe6" stroke-width="0.9">畅易汽车维修平台</text>
</g>
<rect x="330.5" y="536.5" width="29" height="24" fill="none" stroke="#f33" stroke-width="3"/>
<text x="-7" y="599.5" font-size="11.5" fill="#333" font-family="Liberation Sans, sans-serif">12-IEC-A</text>
<text x="331" y="599.5" font-size="11.5" fill="#333" font-family="Liberation Sans, Noto Sans CJK SC, sans-serif">I25- 驾驶员安全气囊</text>
</svg>
</body></html>
